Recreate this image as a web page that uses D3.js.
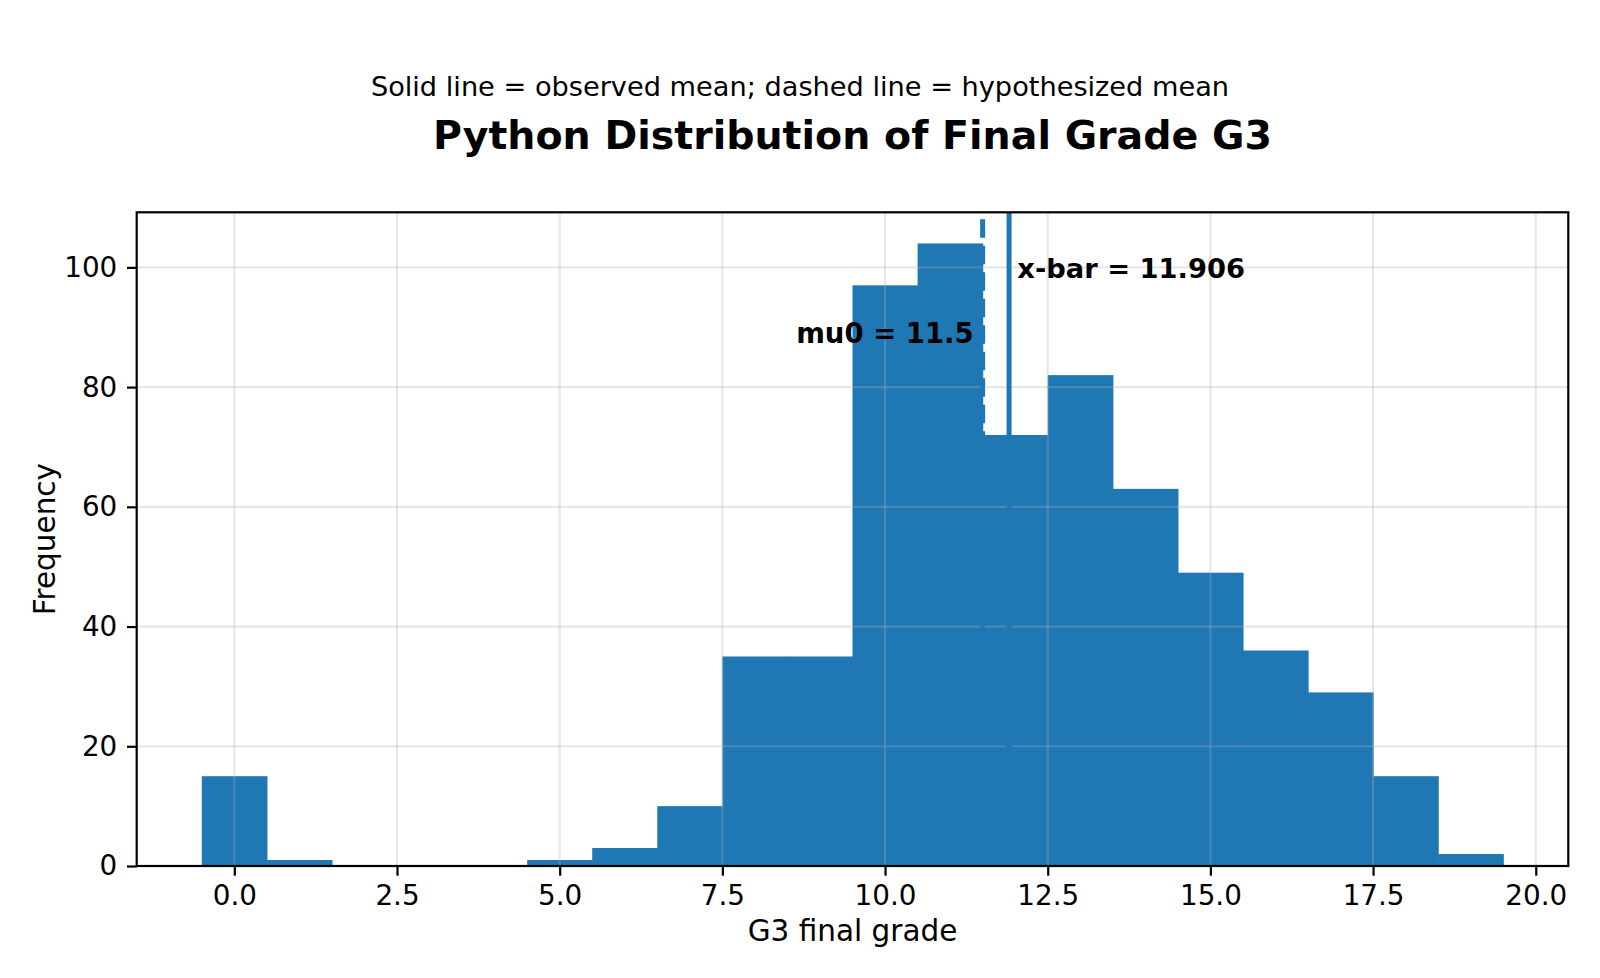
<!DOCTYPE html>
<html>
<head>
<meta charset="utf-8">
<script src="https://cdn.jsdelivr.net/npm/d3@7"></script>
<style>
  html, body { margin: 0; padding: 0; background: #fff; }
  svg { display: block; font-family: "DejaVu Sans", sans-serif; }
</style>
</head>
<body>
<svg id="chart" width="1600" height="978"></svg>
<script>
// G3 counts per integer grade (bins centred on each grade, width 1)
const grades = [0, 1, 2, 3, 4, 5, 6, 7, 8, 9, 10, 11, 12, 13, 14, 15, 16, 17, 18, 19];
const counts = [15, 1, 0, 0, 0, 1, 3, 10, 35, 35, 97, 104, 72, 82, 63, 49, 36, 29, 15, 2];
const xTicks = [0, 2.5, 5, 7.5, 10, 12.5, 15, 17.5, 20];
const yTicks = [0, 20, 40, 60, 80, 100];
const xbar = 11.906;
const mu0 = 11.5;

const W = 1600, H = 978;
const margin = { top: 212.3, right: 1600 - 1568.3, bottom: 978 - 866, left: 136.7 };
const iw = W - margin.left - margin.right;
const ih = H - margin.top - margin.bottom;

const blue = "#1f77b4";
const tickFont = 27.8;
const labelFont = 29.5;

const svg = d3.select("#chart");

svg.append("rect").attr("width", W).attr("height", H).attr("fill", "#fff");

const x = d3.scaleLinear().domain([-1.5, 20.5]).range([0, iw]);
const y = d3.scaleLinear().domain([0, 104 * 1.05]).range([ih, 0]);

const g = svg.append("g").attr("transform", `translate(${margin.left},${margin.top})`);

g.append("clipPath").attr("id", "plot-clip")
  .append("rect").attr("width", iw).attr("height", ih);

// bars
g.selectAll(".bar")
  .data(grades.map((d, i) => ({ grade: d, count: counts[i] })).filter(d => d.count > 0))
  .join("rect")
  .attr("class", "bar")
  .attr("x", d => x(d.grade - 0.5))
  .attr("width", d => x(d.grade + 0.5) - x(d.grade - 0.5) + 0.6)
  .attr("y", d => y(d.count))
  .attr("height", d => y(0) - y(d.count))
  .attr("fill", blue);

// grid sits above the bars, below the mean lines
const grid = g.append("g").attr("stroke", "#b0b0b0").attr("stroke-opacity", 0.3).attr("stroke-width", 2.2);
grid.selectAll(".gx").data(xTicks).join("line")
  .attr("x1", d => x(d)).attr("x2", d => x(d))
  .attr("y1", 0).attr("y2", ih);
grid.selectAll(".gy").data(yTicks).join("line")
  .attr("x1", 0).attr("x2", iw)
  .attr("y1", d => y(d)).attr("y2", d => y(d));

// mean lines
const lines = g.append("g").attr("clip-path", "url(#plot-clip)");
lines.append("line")
  .attr("x1", x(mu0)).attr("x2", x(mu0))
  .attr("y1", 0).attr("y2", ih)
  .attr("stroke", blue).attr("stroke-width", 5)
  .attr("stroke-dasharray", "18.5,8")
  .attr("stroke-dashoffset", 19.5);
lines.append("line")
  .attr("x1", x(xbar)).attr("x2", x(xbar))
  .attr("y1", 0).attr("y2", ih)
  .attr("stroke", blue).attr("stroke-width", 5);

g.append("text")
  .attr("x", x(xbar) + 8.3).attr("y", 278.3 - margin.top)
  .attr("font-size", 27.3).attr("font-weight", "bold")
  .text(`x-bar = ${xbar.toFixed(3)}`);
g.append("text")
  .attr("x", x(mu0) - 9).attr("y", 342.7 - margin.top)
  .attr("text-anchor", "end")
  .attr("font-size", 27.5).attr("font-weight", "bold")
  .text(`mu0 = ${mu0}`);

// axes
const xAxis = g.append("g").attr("transform", `translate(0,${ih})`)
  .call(d3.axisBottom(x).tickValues(xTicks).tickFormat(d3.format(".1f")).tickSize(9.7).tickPadding(9.7));
const yAxis = g.append("g")
  .call(d3.axisLeft(y).tickValues(yTicks).tickFormat(d3.format("d")).tickSize(9.7).tickPadding(9.7));

[xAxis, yAxis].forEach(a => {
  a.select(".domain").remove();
  a.selectAll(".tick line").attr("stroke", "#000").attr("stroke-width", 2.2);
  a.selectAll(".tick text").attr("font-size", tickFont).attr("fill", "#000")
    .attr("font-family", "DejaVu Sans, sans-serif");
});

// frame
g.append("rect")
  .attr("width", iw).attr("height", ih)
  .attr("fill", "none").attr("stroke", "#000").attr("stroke-width", 2.2);

// labels
svg.append("text")
  .attr("x", margin.left + iw / 2).attr("y", 941)
  .attr("text-anchor", "middle").attr("font-size", labelFont)
  .text("G3 final grade");
svg.append("text")
  .attr("transform", `translate(55,${margin.top + ih / 2}) rotate(-90)`)
  .attr("text-anchor", "middle").attr("font-size", labelFont)
  .text("Frequency");

svg.append("text")
  .attr("x", margin.left + iw / 2).attr("y", 149)
  .attr("text-anchor", "middle").attr("font-size", 39.5).attr("font-weight", "bold")
  .text("Python Distribution of Final Grade G3");
svg.append("text")
  .attr("x", W / 2).attr("y", 95.5)
  .attr("text-anchor", "middle").attr("font-size", 27.2)
  .text("Solid line = observed mean; dashed line = hypothesized mean");
</script>
</body>
</html>
